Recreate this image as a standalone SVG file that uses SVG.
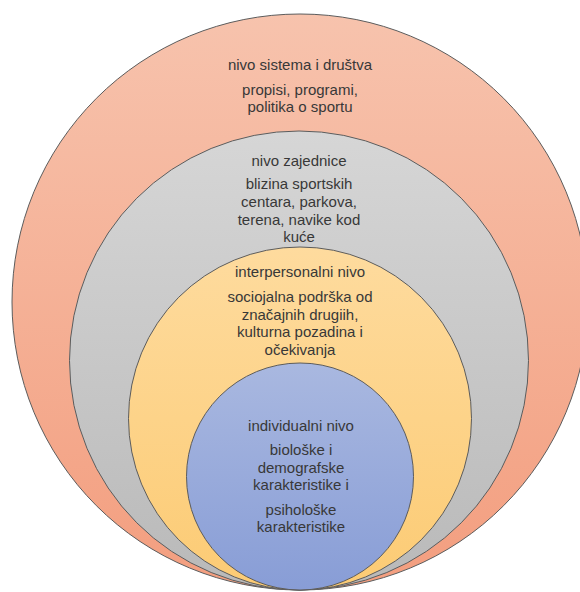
<svg xmlns="http://www.w3.org/2000/svg" width="580" height="592" viewBox="0 0 580 592">
  <defs>
    <linearGradient id="gOuter" x1="0" y1="0" x2="0" y2="1">
      <stop offset="0" stop-color="#f7c3ad"/>
      <stop offset="1" stop-color="#f39e7f"/>
    </linearGradient>
    <linearGradient id="gGrey" x1="0" y1="0" x2="0" y2="1">
      <stop offset="0" stop-color="#d6d6d6"/>
      <stop offset="1" stop-color="#b9b9b9"/>
    </linearGradient>
    <linearGradient id="gYellow" x1="0" y1="0" x2="0" y2="1">
      <stop offset="0" stop-color="#fedb9e"/>
      <stop offset="1" stop-color="#fccb74"/>
    </linearGradient>
    <linearGradient id="gBlue" x1="0" y1="0" x2="0" y2="1">
      <stop offset="0" stop-color="#a9b8e0"/>
      <stop offset="1" stop-color="#889dd6"/>
    </linearGradient>
  </defs>
  <style>
    .ring { stroke: #5c5c5c; stroke-width: 1; }
    text { font-family: "Liberation Sans", Arial, sans-serif; font-size: 15px; fill: #383838; text-anchor: middle; }
  </style>
  <rect width="580" height="592" fill="#ffffff"/>
  <g id="node-sistem">
    <circle class="ring" cx="300" cy="302" r="288" fill="url(#gOuter)"/>
    <text x="300" y="69.5">nivo sistema i društva</text>
    <text x="300" y="95">propisi, programi,</text>
    <text x="300" y="111.5">politika o sportu</text>
  </g>
  <g id="node-zajednica">
    <circle class="ring" cx="299" cy="360.5" r="229.5" fill="url(#gGrey)"/>
    <text x="299" y="165.5">nivo zajednice</text>
    <text x="299" y="189">blizina sportskih</text>
    <text x="299" y="207">centara, parkova,</text>
    <text x="299" y="224.5">terena, navike kod</text>
    <text x="299" y="242">kuće</text>
  </g>
  <g id="node-interpersonalni">
    <circle class="ring" cx="300" cy="418.5" r="171.5" fill="url(#gYellow)"/>
    <text x="300" y="276.5">interpersonalni nivo</text>
    <text x="300" y="302">sociojalna podrška od</text>
    <text x="300" y="319.5">značajnih drugiih,</text>
    <text x="300" y="337">kulturna pozadina i</text>
    <text x="300" y="354.5">očekivanja</text>
  </g>
  <g id="node-individualni">
    <circle class="ring" cx="300" cy="476.5" r="113.5" fill="url(#gBlue)"/>
    <text x="301" y="430.5">individualni nivo</text>
    <text x="301" y="455">biološke i</text>
    <text x="301" y="472.5">demografske</text>
    <text x="301" y="490">karakteristike i</text>
    <text x="301" y="515">psihološke</text>
    <text x="301" y="532">karakteristike</text>
  </g>
</svg>
